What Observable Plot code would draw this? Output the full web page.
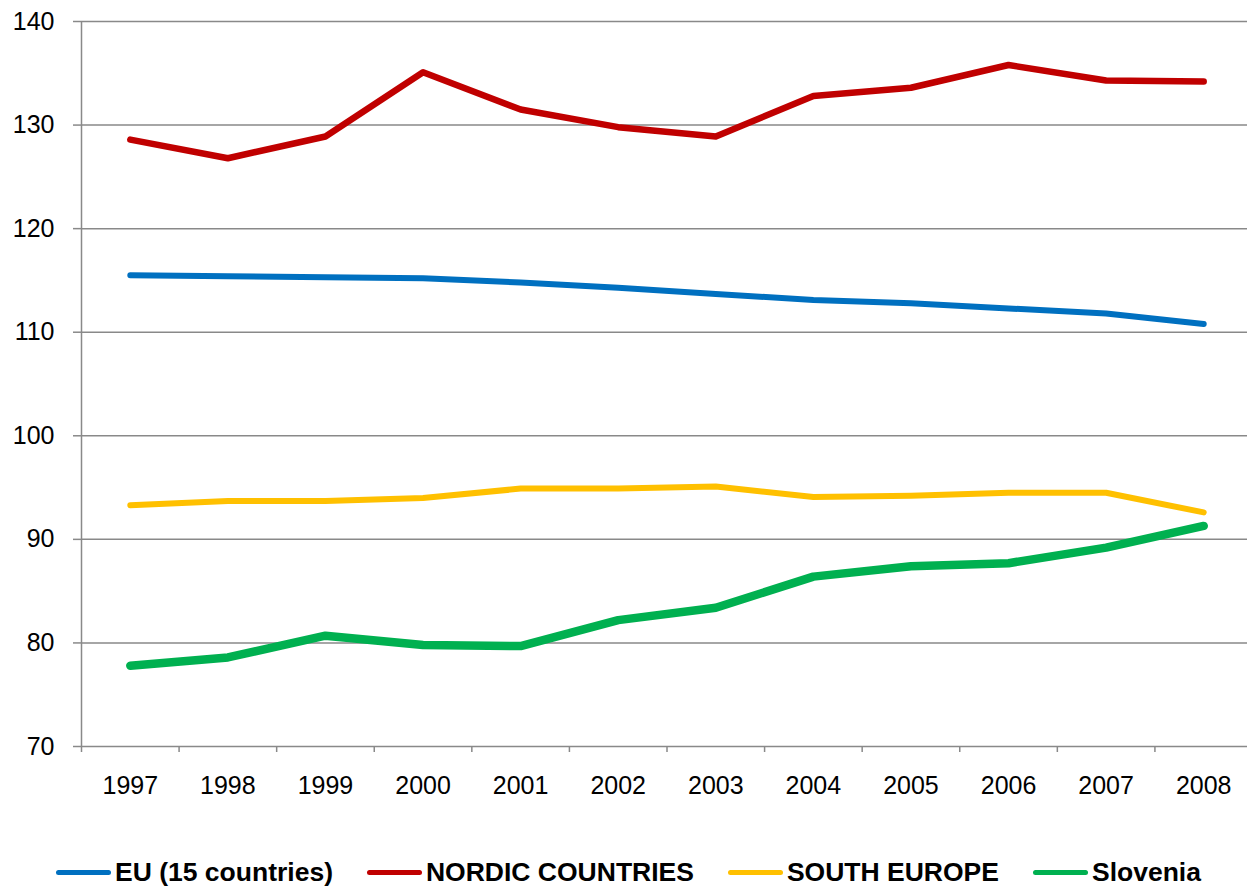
<!DOCTYPE html>
<html>
<head>
<meta charset="utf-8">
<script src="https://cdn.jsdelivr.net/npm/d3@7"></script>
<script src="https://cdn.jsdelivr.net/npm/@observablehq/plot@0.6"></script>
<style>
  html, body { margin: 0; padding: 0; background: #fff; }
  body { width: 1247px; height: 888px; overflow: hidden; font-family: "Liberation Sans", Arial, sans-serif; }
  #chart svg { display: block; }
  #legend {
    height: 64px;
    box-sizing: border-box;
    padding-left: 10px;
    display: flex;
    align-items: center;
    justify-content: center;
    gap: 34px;
    font-weight: bold;
    font-size: 26.5px;
    color: #000;
  }
  .item { display: flex; align-items: center; white-space: nowrap; }
  .swatch { width: 55px; height: 5px; border-radius: 3px; margin-right: 4px; }
</style>
</head>
<body>
<div id="chart"></div>
<div id="legend"></div>
<script>
// Index values per year (EU 15 = reference group comparison)
const years = [1997, 1998, 1999, 2000, 2001, 2002, 2003, 2004, 2005, 2006, 2007, 2008];
const eu15 = [115.5, 115.4, 115.3, 115.2, 114.8, 114.3, 113.7, 113.1, 112.8, 112.3, 111.8, 110.8];
const nordic = [128.6, 126.8, 128.9, 135.1, 131.5, 129.8, 128.9, 132.8, 133.6, 135.8, 134.3, 134.2];
const southEurope = [93.3, 93.7, 93.7, 94.0, 94.9, 94.9, 95.1, 94.1, 94.2, 94.5, 94.5, 92.6];
const slovenia = [77.8, 78.6, 80.7, 79.8, 79.7, 82.2, 83.4, 86.4, 87.4, 87.7, 89.2, 91.3];
const yTicks = [70, 80, 90, 100, 110, 120, 130, 140];

const seriesNames = ["EU (15 countries)", "NORDIC COUNTRIES", "SOUTH EUROPE", "Slovenia"];
const seriesColors = ["#0070C0", "#C00000", "#FFC000", "#00B050"];
const seriesWidths = [6, 6.5, 6, 8.5];
const seriesValues = [eu15, nordic, southEurope, slovenia];

const grid = "#898989";

// category separators sit halfway between years
const separators = [years[0] - 0.5, ...years.map(y => y + 0.5)];

const rows = (vals) => years.map((year, i) => ({year, value: vals[i]}));
// draw order: red first, then blue, yellow, green on top
const drawOrder = [1, 0, 2, 3];

const chart = Plot.plot({
  width: 1247,
  height: 840,
  marginLeft: 81,
  marginRight: 0,
  marginTop: 21,
  marginBottom: 94,
  style: {fontFamily: "'Liberation Sans', Arial, sans-serif", fontSize: "25px", background: "#fff", color: "#000", overflow: "hidden"},
  x: {type: "linear", domain: [years[0] - 0.5, years[years.length - 1] + 0.5], range: [81, 1252], axis: null},
  y: {domain: [70, 140], axis: null},
  marks: [
    Plot.ruleY(yTicks.filter(d => d > 70), {stroke: grid, strokeWidth: 1.5}),
    Plot.ruleY([70], {stroke: grid, strokeWidth: 1.5}),
    Plot.ruleX([separators[0]], {y1: 70, y2: 140, stroke: grid, strokeWidth: 1.5}),
    Plot.axisY({ticks: yTicks, tickSize: 8, tickPadding: 19, stroke: grid, strokeWidth: 1.5, fill: "#000", fontSize: 25, tickFormat: d => String(d), label: null}),
    Plot.axisX({ticks: separators, tickSize: 6, stroke: grid, strokeWidth: 1.5, tickFormat: () => "", label: null}),
    Plot.axisX({ticks: years, tickSize: 0, tickPadding: 30, fill: "#000", fontSize: 25, tickFormat: d => String(d), label: null}),
    ...drawOrder.map(i => Plot.line(rows(seriesValues[i]), {
      x: "year", y: "value",
      stroke: seriesColors[i], strokeWidth: seriesWidths[i],
      strokeLinecap: "round", strokeLinejoin: "round"
    }))
  ]
});
document.getElementById("chart").appendChild(chart);

const legend = d3.select("#legend");
seriesNames.forEach((name, i) => {
  const item = legend.append("div").attr("class", "item");
  item.append("div").attr("class", "swatch").style("background", seriesColors[i]);
  item.append("span").text(name);
});
</script>
</body>
</html>
